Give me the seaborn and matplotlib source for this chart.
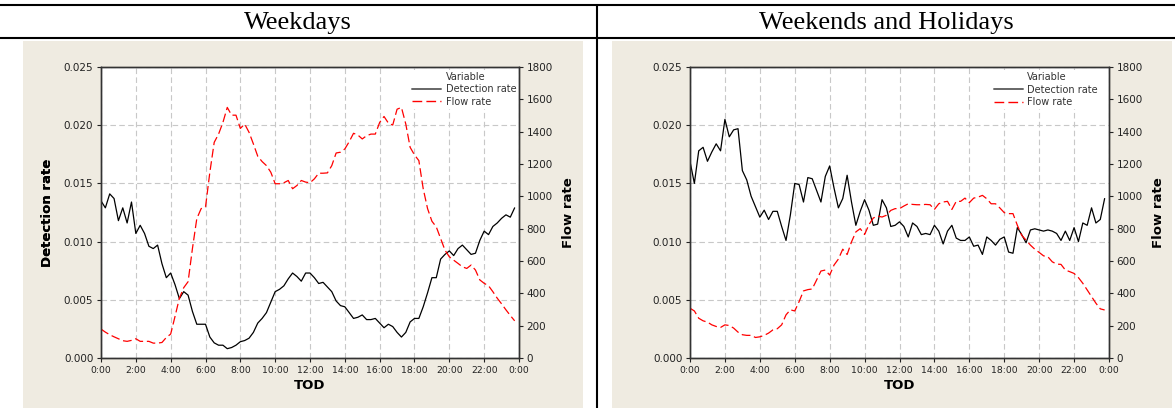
import numpy as np
import pandas as pd
import matplotlib.pyplot as plt
import seaborn as sns
from matplotlib.lines import Line2D
from matplotlib.patches import Rectangle

# time of day, 15 minute steps
tod_hours = np.arange(0, 24, 0.25)

weekday_detection = [
    0.0135, 0.0129, 0.0141, 0.0137, 0.0118, 0.0129, 0.0116, 0.0134,
    0.0107, 0.0114, 0.0107, 0.0096, 0.0094, 0.0097, 0.0081, 0.0069,
    0.0073, 0.0063, 0.0051, 0.0057, 0.0054, 0.0040, 0.0029, 0.0029,
    0.0029, 0.0018, 0.0013, 0.0011, 0.0011, 0.0008, 0.0009, 0.0011,
    0.0014, 0.0015, 0.0017, 0.0022, 0.0030, 0.0034, 0.0039, 0.0048,
    0.0057, 0.0059, 0.0062, 0.0068, 0.0073, 0.0070, 0.0066, 0.0073,
    0.0073, 0.0069, 0.0064, 0.0065, 0.0061, 0.0057, 0.0049, 0.0045,
    0.0044, 0.0039, 0.0034, 0.0035, 0.0037, 0.0033, 0.0033, 0.0034,
    0.0030, 0.0026, 0.0029, 0.0027, 0.0022, 0.0018, 0.0022, 0.0031,
    0.0034, 0.0034, 0.0044, 0.0056, 0.0069, 0.0069, 0.0085, 0.0089,
    0.0092, 0.0088, 0.0094, 0.0097, 0.0093, 0.0089, 0.0090, 0.0101,
    0.0109, 0.0106, 0.0113, 0.0116, 0.0120, 0.0123, 0.0121, 0.0129,
]
weekday_flow = [
    179, 160, 144, 131, 119, 107, 103, 109,
    119, 103, 103, 103, 92, 92, 96, 127,
    148, 257, 370, 435, 472, 677, 862, 924,
    934, 1149, 1334, 1385, 1457, 1550, 1502, 1502,
    1420, 1447, 1396, 1324, 1248, 1215, 1190, 1149,
    1078, 1078, 1084, 1098, 1047, 1067, 1098, 1088,
    1084, 1108, 1143, 1143, 1145, 1190, 1268, 1273,
    1293, 1338, 1390, 1379, 1355, 1375, 1385, 1385,
    1457, 1494, 1453, 1441, 1539, 1550, 1447, 1303,
    1256, 1221, 1047, 924, 846, 811, 739, 667,
    626, 605, 585, 564, 554, 575, 544, 483,
    462, 447, 410, 370, 335, 298, 263, 230,
]
weekend_detection = [
    0.0169, 0.0150, 0.0178, 0.0181, 0.0169, 0.0177, 0.0184, 0.0178,
    0.0205, 0.0190, 0.0196, 0.0197, 0.0161, 0.0153, 0.0139, 0.0130,
    0.0121, 0.0127, 0.0119, 0.0126, 0.0126, 0.0113, 0.0101, 0.0123,
    0.0150, 0.0149, 0.0134, 0.0155, 0.0154, 0.0144, 0.0134, 0.0156,
    0.0165, 0.0146, 0.0129, 0.0137, 0.0157, 0.0134, 0.0114, 0.0126,
    0.0136, 0.0127, 0.0114, 0.0115, 0.0136, 0.0129, 0.0113, 0.0114,
    0.0117, 0.0113, 0.0104, 0.0116, 0.0113, 0.0106, 0.0107, 0.0106,
    0.0114, 0.0109, 0.0098, 0.0109, 0.0114, 0.0103, 0.0101, 0.0101,
    0.0104, 0.0096, 0.0097, 0.0089, 0.0104, 0.0101, 0.0097, 0.0102,
    0.0104, 0.0091, 0.0090, 0.0112, 0.0106, 0.0099, 0.0110, 0.0111,
    0.0110, 0.0109, 0.0110, 0.0109, 0.0107, 0.0101, 0.0109, 0.0101,
    0.0112, 0.0100, 0.0116, 0.0114, 0.0129, 0.0116, 0.0119, 0.0137,
]
weekend_flow = [
    308, 291, 246, 230, 222, 205, 195, 189,
    205, 201, 185, 160, 144, 140, 140, 127,
    131, 140, 154, 174, 181, 205, 267, 298,
    291, 349, 415, 423, 427, 482, 538, 544,
    513, 575, 612, 673, 640, 718, 780, 800,
    764, 825, 866, 878, 872, 883, 913, 924,
    924, 940, 954, 950, 948, 948, 950, 948,
    919, 954, 965, 969, 919, 969, 969, 989,
    961, 989, 995, 1006, 985, 954, 954, 928,
    899, 893, 893, 821, 759, 729, 698, 673,
    653, 632, 626, 595, 581, 579, 544, 534,
    523, 497, 462, 421, 380, 339, 304, 297,
]

panel_titles = ["Weekdays", "Weekends and Holidays"]
tick_hours = list(range(0, 25, 2))
tick_labels = [f"{h % 24}:00" for h in tick_hours]
det_ticks = [0.0, 0.005, 0.010, 0.015, 0.020, 0.025]
flow_ticks = list(range(0, 1801, 200))

sns.set_theme(style="ticks")
plt.rcParams["font.family"] = ["DejaVu Sans"]

W, H = 1175, 408
fig = plt.figure(figsize=(W / 100, H / 100), dpi=100)

beige = "#EFEBE1"
ink = "#222222"
flow_dash = (0, (7, 3))

def fx(px):
    return px / W

def fy(py):
    return 1 - py / H

# table frame and header
for y in (5, 38):
    fig.add_artist(Line2D([0, 1], [fy(y), fy(y)], transform=fig.transFigure,
                          color="black", lw=1.5))
fig.add_artist(Line2D([fx(597), fx(597)], [fy(5), 0], transform=fig.transFigure,
                      color="black", lw=1.5))

panels = [
    dict(df=pd.DataFrame({"TOD": tod_hours, "Detection rate": weekday_detection,
                          "Flow rate": weekday_flow}),
         bg=(23, 583), ax_x=(101, 519), title_x=298, leg_anchor=(1.005, 1.0)),
    dict(df=pd.DataFrame({"TOD": tod_hours, "Detection rate": weekend_detection,
                          "Flow rate": weekend_flow}),
         bg=(612, 1172), ax_x=(690, 1109), title_x=886, leg_anchor=(0.985, 0.998)),
]

ax_top, ax_bot = 67, 358

for title, p in zip(panel_titles, panels):
    fig.text(fx(p["title_x"]), fy(29), title, family="Liberation Serif",
             fontsize=19, ha="center", va="baseline", color="black")

    b0, b1 = p["bg"]
    fig.add_artist(Rectangle((fx(b0), 0), fx(b1 - b0), fy(41), transform=fig.transFigure,
                             facecolor=beige, edgecolor="none", zorder=-1))

    x0, x1 = p["ax_x"]
    ax = fig.add_axes([fx(x0), fy(ax_bot), fx(x1 - x0), (ax_bot - ax_top) / H])
    ax.set_facecolor("white")
    ax2 = ax.twinx()

    df = p["df"]
    sns.lineplot(data=df, x="TOD", y="Detection rate", ax=ax, color="black",
                 linewidth=0.9, legend=False)
    sns.lineplot(data=df, x="TOD", y="Flow rate", ax=ax2, color="red",
                 linewidth=0.9, linestyle=flow_dash, legend=False)

    ax.set_xlim(0, 24)
    ax.set_xticks(tick_hours)
    ax.set_xticklabels(tick_labels)
    ax.set_ylim(0, 0.025)
    ax.set_yticks(det_ticks)
    ax.set_yticklabels([f"{v:.3f}" for v in det_ticks])
    ax2.set_ylim(0, 1800)
    ax2.set_yticks(flow_ticks)

    ax.set_axisbelow(True)
    ax.grid(True, color="#c8c8c8", linestyle=(0, (5, 3)), linewidth=0.8)
    ax2.grid(False)

    for a in (ax, ax2):
        for s in a.spines.values():
            s.set_color("#333333")
            s.set_linewidth(1.0)
            s.set_visible(True)
    ax.tick_params(axis="x", direction="out", length=3, width=0.8, colors=ink,
                   labelsize=6.7, pad=3)
    ax.tick_params(axis="y", direction="out", length=3, width=0.8, colors=ink,
                   labelsize=7.5, pad=2.5)
    ax2.tick_params(axis="y", direction="out", length=3, width=0.8, colors=ink,
                    labelsize=7.5, pad=2.5)

    ax.set_xlabel("TOD", fontsize=9.5, fontweight="bold", color="black")
    ax.set_ylabel("Detection rate", fontsize=9.5, fontweight="bold", color="black")
    ax2.set_ylabel("Flow rate", fontsize=9.5, fontweight="bold", color="black",
                   rotation=90)
    for lab in (ax.xaxis.label, ax.yaxis.label, ax2.yaxis.label):
        lab.set_ha("center")
        lab.set_va("center")
    ax.xaxis.set_label_coords(0.5, -0.093)
    ax.yaxis.set_label_coords((47.5 - x0) / (x1 - x0), 0.5)
    ax2.yaxis.set_label_coords((568.5 - 101) / (519 - 101), 0.5)

    handles = [Line2D([], [], color="none"),
               Line2D([], [], color="#666666", lw=1.4),
               Line2D([], [], color="red", lw=1.0, linestyle=flow_dash)]
    leg = ax2.legend(handles, ["Variable", "Detection rate", "Flow rate"],
                     loc="upper right", bbox_to_anchor=p["leg_anchor"],
                     fontsize=7, frameon=True, facecolor="white", edgecolor="none",
                     framealpha=1, fancybox=False, borderpad=0.2, borderaxespad=0.3,
                     labelspacing=0.25, handlelength=3.0, handletextpad=0.45)
    for t in leg.get_texts():
        t.set_color("#333333")

fig.savefig("out.png", dpi=100)
